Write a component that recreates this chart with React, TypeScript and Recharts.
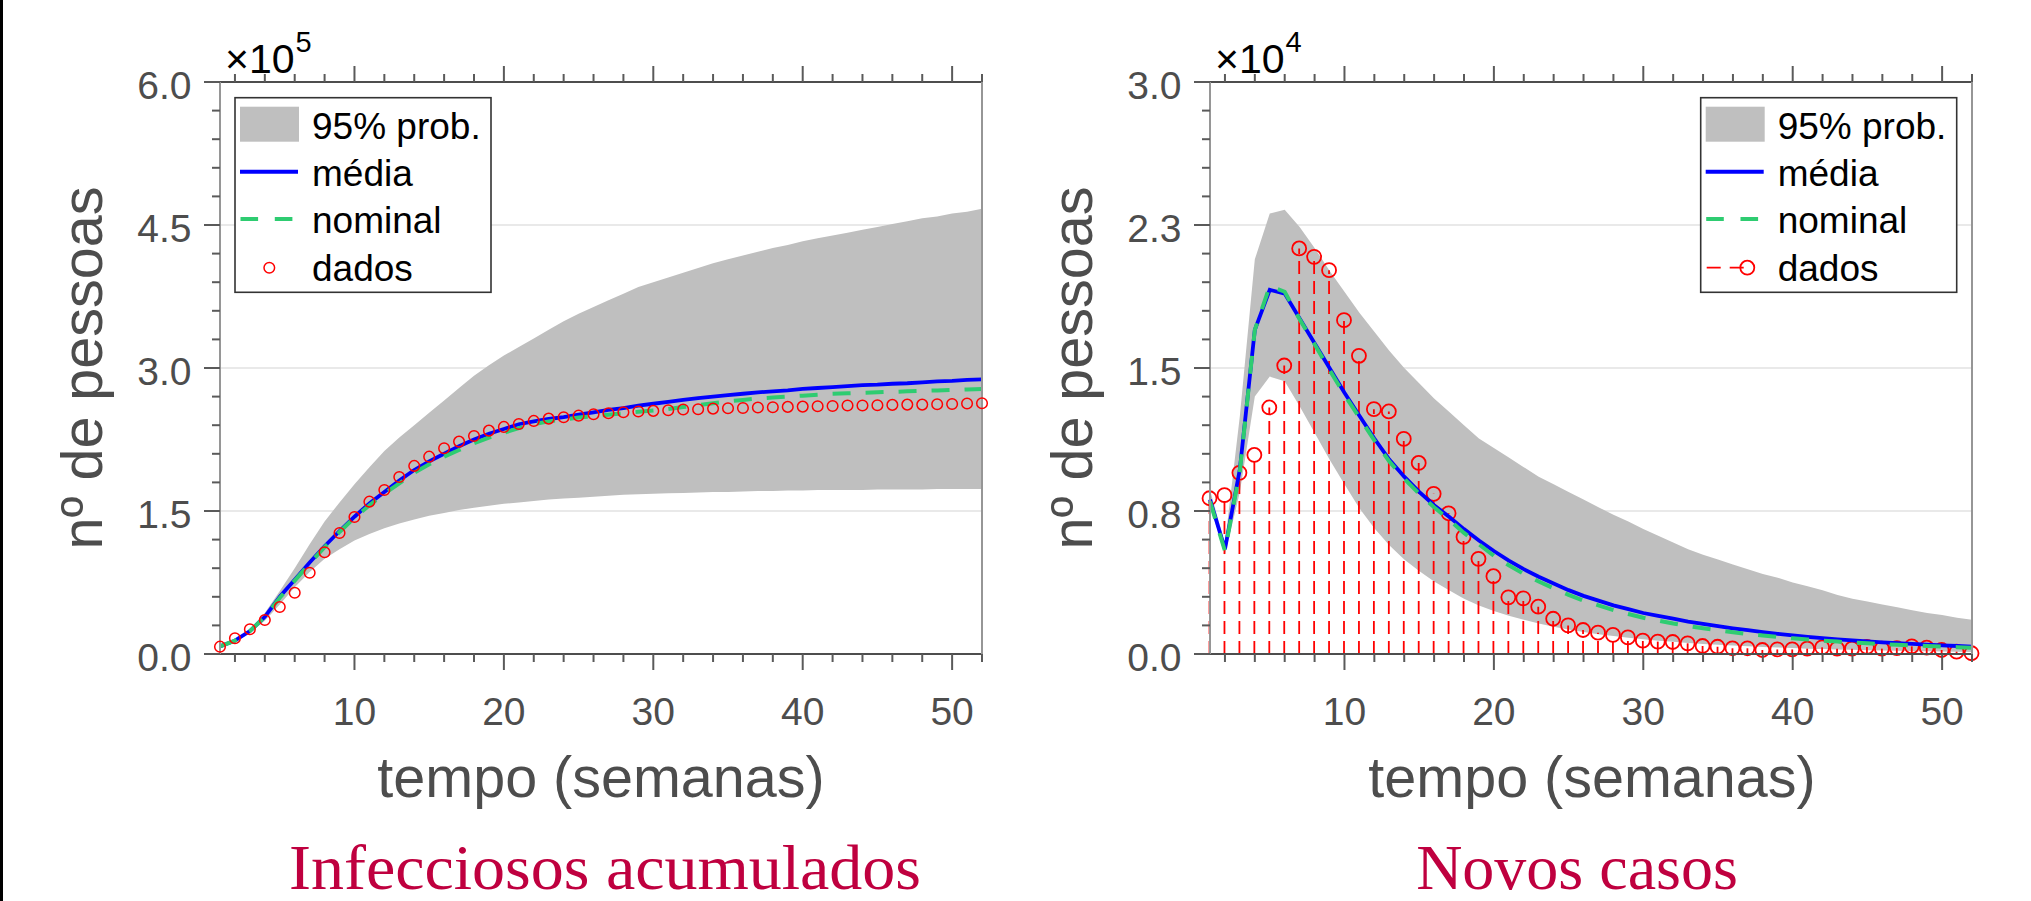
import React from "react";
import { ComposedChart, Area, Line, Bar, XAxis, YAxis, CartesianGrid } from "recharts";

// ---------- categories ----------
const WEEKS = [
  1, 2, 3, 4, 5, 6, 7, 8, 9, 10, 11, 12, 13, 14, 15, 16, 17, 18, 19, 20, 21, 22, 23, 24, 25, 26,
  27, 28, 29, 30, 31, 32, 33, 34, 35, 36, 37, 38, 39, 40, 41, 42, 43, 44, 45, 46, 47, 48, 49, 50, 51, 52,
];

// ---------- Infecciosos acumulados (x 10^5) ----------
const CUM_DADOS = [
  0.077, 0.165, 0.26, 0.357, 0.493, 0.643, 0.853, 1.067, 1.27, 1.437, 1.598, 1.72, 1.857, 1.973, 2.07, 2.158,
  2.228, 2.287, 2.343, 2.382, 2.413, 2.445, 2.469, 2.484, 2.5, 2.515, 2.526, 2.536, 2.543, 2.55, 2.557, 2.564,
  2.567, 2.574, 2.578, 2.581, 2.585, 2.588, 2.592, 2.595, 2.599, 2.602, 2.606, 2.606, 2.609, 2.613, 2.616, 2.616,
  2.62, 2.623, 2.627, 2.631,
];
const CUM_MEDIA = [
  0.08, 0.14, 0.24, 0.39, 0.6, 0.78, 0.96, 1.13, 1.29, 1.44, 1.58, 1.7, 1.82, 1.93, 2.02, 2.1, 2.18, 2.25, 2.31,
  2.36, 2.41, 2.44, 2.465, 2.485, 2.51, 2.535, 2.56, 2.58, 2.605, 2.625, 2.645, 2.665, 2.685, 2.7, 2.715, 2.73,
  2.745, 2.755, 2.765, 2.78, 2.79, 2.8, 2.81, 2.82, 2.825, 2.835, 2.84, 2.85, 2.86, 2.865, 2.875, 2.88,
];
const CUM_NOMINAL = [
  0.08, 0.14, 0.24, 0.39, 0.59, 0.77, 0.95, 1.12, 1.28, 1.43, 1.56, 1.68, 1.79, 1.9, 1.99, 2.07, 2.14, 2.21, 2.27,
  2.32, 2.37, 2.41, 2.44, 2.46, 2.48, 2.495, 2.51, 2.525, 2.54, 2.555, 2.57, 2.59, 2.61, 2.63, 2.65, 2.665, 2.68,
  2.69, 2.7, 2.71, 2.72, 2.73, 2.735, 2.74, 2.745, 2.75, 2.755, 2.76, 2.765, 2.77, 2.775, 2.78,
];
const CUM_UPPER = [
  0.08, 0.15, 0.26, 0.43, 0.66, 0.9, 1.15, 1.39, 1.59, 1.78, 1.96, 2.13, 2.27, 2.4, 2.53, 2.66, 2.79, 2.92, 3.03,
  3.13, 3.22, 3.31, 3.4, 3.49, 3.57, 3.64, 3.71, 3.78, 3.85, 3.9, 3.95, 4.0, 4.05, 4.1, 4.14, 4.18, 4.22, 4.26,
  4.29, 4.33, 4.36, 4.39, 4.42, 4.45, 4.48, 4.51, 4.54, 4.57, 4.59, 4.62, 4.64, 4.67,
];
const CUM_LOWER = [
  0.08, 0.13, 0.22, 0.35, 0.52, 0.7, 0.86, 1.0, 1.1, 1.19, 1.26, 1.32, 1.37, 1.41, 1.45, 1.48, 1.51, 1.535, 1.555,
  1.575, 1.59, 1.605, 1.62, 1.63, 1.64, 1.65, 1.66, 1.67, 1.675, 1.68, 1.685, 1.69, 1.695, 1.7, 1.7, 1.705, 1.71,
  1.71, 1.715, 1.715, 1.72, 1.72, 1.72, 1.72, 1.725, 1.725, 1.725, 1.725, 1.73, 1.73, 1.73, 1.73,
];

// ---------- Novos casos (x 10^4) ----------
const NEW_DADOS = [
  0.817, 0.833, 0.95, 1.044, 1.293, 1.513, 2.127, 2.083, 2.013, 1.751, 1.564, 1.284, 1.272, 1.128, 1.002, 0.84,
  0.738, 0.614, 0.499, 0.408, 0.297, 0.292, 0.248, 0.185, 0.15, 0.126, 0.112, 0.1, 0.087, 0.07, 0.065, 0.063,
  0.056, 0.042, 0.038, 0.03, 0.03, 0.021, 0.024, 0.024, 0.028, 0.035, 0.028, 0.028, 0.037, 0.028, 0.031, 0.04,
  0.033, 0.021, 0.012, 0.004,
];
const NEW_MEDIA = [
  0.81, 0.55, 0.97, 1.7, 1.91, 1.89, 1.76, 1.63, 1.5, 1.37, 1.25, 1.13, 1.02, 0.93, 0.85, 0.78, 0.72, 0.655, 0.595,
  0.54, 0.49, 0.445, 0.405, 0.37, 0.335, 0.305, 0.28, 0.255, 0.235, 0.215, 0.2, 0.185, 0.17, 0.158, 0.146, 0.135,
  0.125, 0.115, 0.106, 0.098, 0.09, 0.083, 0.077, 0.071, 0.066, 0.061, 0.057, 0.053, 0.049, 0.045, 0.042, 0.039,
];
const NEW_NOMINAL = [
  0.8, 0.54, 0.96, 1.7, 1.93, 1.9, 1.755, 1.625, 1.49, 1.36, 1.24, 1.12, 1.01, 0.92, 0.84, 0.77, 0.705, 0.635,
  0.575, 0.515, 0.465, 0.42, 0.38, 0.345, 0.31, 0.28, 0.255, 0.23, 0.21, 0.19, 0.175, 0.16, 0.147, 0.135, 0.124,
  0.114, 0.105, 0.097, 0.089, 0.082, 0.076, 0.07, 0.065, 0.06, 0.056, 0.052, 0.048, 0.045, 0.042, 0.039, 0.036, 0.033,
];
const NEW_UPPER = [
  0.86, 0.58, 1.25, 2.07, 2.31, 2.33, 2.24, 2.13, 2.01, 1.9, 1.79, 1.69, 1.59, 1.5, 1.42, 1.34, 1.27, 1.2, 1.13,
  1.08, 1.03, 0.98, 0.93, 0.89, 0.85, 0.81, 0.77, 0.73, 0.695, 0.655, 0.62, 0.585, 0.55, 0.52, 0.495, 0.47, 0.445,
  0.42, 0.4, 0.375, 0.355, 0.335, 0.31, 0.29, 0.275, 0.26, 0.245, 0.23, 0.215, 0.205, 0.19, 0.18,
];
const NEW_LOWER = [
  0.78, 0.52, 0.85, 1.35, 1.455, 1.43, 1.3, 1.16, 1.02, 0.89, 0.765, 0.66, 0.57, 0.495, 0.435, 0.38, 0.335, 0.29,
  0.255, 0.225, 0.2, 0.18, 0.16, 0.143, 0.128, 0.115, 0.104, 0.094, 0.085, 0.077, 0.07, 0.064, 0.058, 0.053, 0.048,
  0.044, 0.04, 0.037, 0.034, 0.031, 0.028, 0.026, 0.024, 0.022, 0.02, 0.018, 0.017, 0.015, 0.014, 0.013, 0.012, 0.011,
];

// ---------- ticks / labels ----------
const X_TICKS = [2, 4, 6, 8, 10, 12, 14, 16, 18, 20, 22, 24, 26, 28, 30, 32, 34, 36, 38, 40, 42, 44, 46, 48, 50, 52];
const X_MAJOR = [10, 20, 30, 40, 50];
const X_LABELS = ["10", "20", "30", "40", "50"];

const CUM_Y_TICKS = [0, 0.3, 0.6, 0.9, 1.2, 1.5, 1.8, 2.1, 2.4, 2.7, 3.0, 3.3, 3.6, 3.9, 4.2, 4.5, 4.8, 5.1, 5.4, 5.7, 6.0];
const CUM_Y_MAJOR = [0, 1.5, 3.0, 4.5, 6.0];
const CUM_Y_LABELS = ["0.0", "1.5", "3.0", "4.5", "6.0"];

const NEW_Y_TICKS = [0, 0.15, 0.3, 0.45, 0.6, 0.75, 0.9, 1.05, 1.2, 1.35, 1.5, 1.65, 1.8, 1.95, 2.1, 2.25, 2.4, 2.55, 2.7, 2.85, 3.0];
const NEW_Y_MAJOR = [0, 0.75, 1.5, 2.25, 3.0];
const NEW_Y_LABELS = ["0.0", "0.8", "1.5", "2.3", "3.0"];

const LEGEND_LABELS = ["95% prob.", "média", "nominal", "dados"];
const TITLES = ["Infecciosos acumulados", "Novos casos"];
const X_LABEL = "tempo (semanas)";
const Y_LABEL = "nº de pessoas";
const EXPONENTS = ["5", "4"];

const cumData = WEEKS.map((w, i) => ({
  week: w,
  band: [CUM_LOWER[i], CUM_UPPER[i]],
  media: CUM_MEDIA[i],
  nominal: CUM_NOMINAL[i],
  dados: CUM_DADOS[i],
}));
const newData = WEEKS.map((w, i) => ({
  week: w,
  band: [NEW_LOWER[i], NEW_UPPER[i]],
  media: NEW_MEDIA[i],
  nominal: NEW_NOMINAL[i],
  dados: NEW_DADOS[i],
}));

// ---------- styles ----------
const SANS = "'Liberation Sans', Arial, Helvetica, sans-serif";
const SERIF = "'Liberation Serif', 'Times New Roman', serif";
const TXT = "#4d4d4d";
const HLINE = "#4d4d4d";
const VLINE = "#969696";
const TICK = "#5a5a5a";
const BAND = "#bfbfbf";
const BLUE = "#0000ff";
const GREEN = "#2ecc71";
const RED = "#ff0000";
const TITLE_RED = "#bf003f";

const yTickLeft = (majors: number[], labels: string[]) => (props: any) => {
  const { x, y, payload } = props;
  const i = majors.indexOf(payload.value);
  const major = i >= 0;
  return (
    <g>
      <line x1={x} x2={x - (major ? 16 : 8)} y1={y} y2={y} stroke={TICK} strokeWidth={2} />
      {major && (
        <text x={x - 28.5} y={y + 16.5} textAnchor="end" fontSize={39} fontFamily={SANS} fill={TXT}>
          {labels[i]}
        </text>
      )}
    </g>
  );
};
const yTickRight = (majors: number[]) => (props: any) => {
  const { x, y, payload } = props;
  const major = majors.indexOf(payload.value) >= 0;
  return <line x1={x} x2={x + (major ? 16 : 8)} y1={y} y2={y} stroke={TICK} strokeWidth={2} />;
};
const xTickBottom = (props: any) => {
  const { x, y, payload } = props;
  const i = X_MAJOR.indexOf(payload.value);
  const major = i >= 0;
  return (
    <g>
      <line x1={x} x2={x} y1={y} y2={y + (major ? 16 : 8)} stroke={TICK} strokeWidth={2} />
      {major && (
        <text x={x} y={y + 71} textAnchor="middle" fontSize={39} fontFamily={SANS} fill={TXT}>
          {X_LABELS[i]}
        </text>
      )}
    </g>
  );
};
const xTickTop = (props: any) => {
  const { x, y, payload } = props;
  const major = X_MAJOR.indexOf(payload.value) >= 0;
  return <line x1={x} x2={x} y1={y} y2={y - (major ? 16 : 8)} stroke={TICK} strokeWidth={2} />;
};

const StemShape = (props: any) => {
  const { x, y, width, height } = props;
  if (x == null || y == null) return <g />;
  const cx = x + width / 2;
  return (
    <g>
      <line x1={cx} x2={cx} y1={y + height} y2={y} stroke={RED} strokeWidth={1.8} strokeDasharray="13 7" />
      <circle cx={cx} cy={y} r={7} fill="none" stroke={RED} strokeWidth={1.8} />
    </g>
  );
};

type PanelProps = {
  data: any[];
  yMax: number;
  yTicks: number[];
  yMajor: number[];
  yLabels: string[];
  stems: boolean;
  margin: { top: number; right: number; bottom: number; left: number };
  width: number;
};

function Panel({ data, yMax, yTicks, yMajor, yLabels, stems, margin, width }: PanelProps) {
  const gridValues = yMajor.filter((v) => v > 0 && v < yMax);
  return (
    <ComposedChart width={width} height={901} data={data} margin={margin}>
      <CartesianGrid vertical={false} horizontalValues={gridValues} stroke="#e2e2e2" strokeWidth={1.5} />
      <XAxis
        dataKey="week"
        type="number"
        domain={[1, 52]}
        ticks={X_TICKS}
        interval={0}
        height={60}
        tickSize={0}
        tickMargin={0}
        tickLine={false}
        tick={xTickBottom}
        axisLine={{ stroke: HLINE, strokeWidth: 2 }}
      />
      <XAxis
        xAxisId="top"
        orientation="top"
        dataKey="week"
        type="number"
        domain={[1, 52]}
        ticks={X_TICKS}
        interval={0}
        height={30}
        tickSize={0}
        tickMargin={0}
        tickLine={false}
        tick={xTickTop}
        axisLine={{ stroke: HLINE, strokeWidth: 2 }}
      />
      <YAxis
        type="number"
        domain={[0, yMax]}
        ticks={yTicks}
        interval={0}
        width={100}
        tickSize={0}
        tickMargin={0}
        tickLine={false}
        tick={yTickLeft(yMajor, yLabels)}
        axisLine={{ stroke: VLINE, strokeWidth: 2 }}
      />
      <YAxis
        yAxisId="right"
        orientation="right"
        type="number"
        domain={[0, yMax]}
        ticks={yTicks}
        interval={0}
        width={30}
        tickSize={0}
        tickMargin={0}
        tickLine={false}
        tick={yTickRight(yMajor)}
        axisLine={{ stroke: VLINE, strokeWidth: 2 }}
      />
      <Area
        type="linear"
        dataKey="band"
        stroke="none"
        fill={BAND}
        fillOpacity={1}
        isAnimationActive={false}
        activeDot={false}
        dot={false}
      />
      <Line
        type="linear"
        dataKey="media"
        stroke={BLUE}
        strokeWidth={3.8}
        dot={false}
        activeDot={false}
        isAnimationActive={false}
      />
      <Line
        type="linear"
        dataKey="nominal"
        stroke={GREEN}
        strokeWidth={4}
        strokeDasharray="18 15"
        dot={false}
        activeDot={false}
        isAnimationActive={false}
      />
      {stems ? (
        <Bar dataKey="dados" barSize={4} shape={StemShape} isAnimationActive={false} />
      ) : (
        <Line
          type="linear"
          dataKey="dados"
          stroke="none"
          activeDot={false}
          isAnimationActive={false}
          dot={(p: any) => (
            <circle key={`d${p.index}`} cx={p.cx} cy={p.cy} r={5.3} fill="none" stroke={RED} strokeWidth={1.5} />
          )}
        />
      )}
    </ComposedChart>
  );
}

function LegendBox({ left, stem }: { left: number; stem: boolean }) {
  const top = 97.7;
  const tx = left + 77;
  const fs = 37;
  return (
    <g>
      <rect x={left} y={top} width={256} height={194.6} fill="#ffffff" stroke="#333333" strokeWidth={1.6} />
      <rect x={left + 5} y={top + 9} width={59} height={35} fill={BAND} />
      <text x={tx} y={139.3} fontSize={fs} fontFamily={SANS} fill="#000">{LEGEND_LABELS[0]}</text>
      <line x1={left + 5} x2={left + 63} y1={171.7} y2={171.7} stroke={BLUE} strokeWidth={4} />
      <text x={tx} y={186} fontSize={fs} fontFamily={SANS} fill="#000">{LEGEND_LABELS[1]}</text>
      <line x1={left + 5.5} x2={left + 58} y1={219} y2={219} stroke={GREEN} strokeWidth={4} strokeDasharray="17.6 16.7" />
      <text x={tx} y={233.3} fontSize={fs} fontFamily={SANS} fill="#000">{LEGEND_LABELS[2]}</text>
      {stem ? (
        <g>
          <line x1={left + 6} x2={left + 46.6} y1={267.7} y2={267.7} stroke={RED} strokeWidth={1.8} strokeDasharray="14 9" />
          <circle cx={left + 46.6} cy={267.7} r={7} fill="none" stroke={RED} strokeWidth={1.8} />
        </g>
      ) : (
        <circle cx={left + 34.3} cy={267.7} r={5.3} fill="none" stroke={RED} strokeWidth={1.5} />
      )}
      <text x={tx} y={280.7} fontSize={fs} fontFamily={SANS} fill="#000">{LEGEND_LABELS[3]}</text>
    </g>
  );
}

function Annotations() {
  const panels = [
    { axisLeft: 220, center: 601, titleCenter: 605, titleLen: 632, legendLeft: 235, stem: false, exp: EXPONENTS[0], title: TITLES[0] },
    { axisLeft: 1210, center: 1592, titleCenter: 1577, titleLen: 0, legendLeft: 1700.7, stem: true, exp: EXPONENTS[1], title: TITLES[1] },
  ];
  return (
    <svg
      width={2031}
      height={901}
      style={{ position: "absolute", left: 0, top: 0, pointerEvents: "none" }}
    >
      {panels.map((p, k) => (
        <g key={k}>
          <LegendBox left={p.legendLeft} stem={p.stem} />
          <text x={p.axisLeft + 5} y={72.5} fontSize={41} fontFamily={SANS} fill="#000">
            ×10
          </text>
          <text x={p.axisLeft + 75.5} y={51.7} fontSize={29} fontFamily={SANS} fill="#000">
            {p.exp}
          </text>
          <text x={p.center} y={797} textAnchor="middle" fontSize={57.5} fontFamily={SANS} fill={TXT}>
            {X_LABEL}
          </text>
          <text
            x={p.axisLeft - 118}
            y={368}
            transform={`rotate(-90 ${p.axisLeft - 118} 368)`}
            textAnchor="middle"
            fontSize={57.5}
            fontFamily={SANS}
            fill={TXT}
          >
            {Y_LABEL}
          </text>
          <text
            x={p.titleCenter}
            y={888.5}
            textAnchor="middle"
            fontSize={64}
            fontFamily={SERIF}
            fill={TITLE_RED}
            {...(p.titleLen ? { textLength: p.titleLen, lengthAdjust: "spacingAndGlyphs" } : {})}
          >
            {p.title}
          </text>
        </g>
      ))}
    </svg>
  );
}

export default function App() {
  return (
    <div style={{ position: "relative", width: 2031, height: 901, background: "#fff", overflow: "hidden" }}>
      <style>{"body{margin:0;}"}</style>
      <div style={{ position: "absolute", left: 0, top: 0, width: 3, height: 901, background: "#000" }} />
      <div style={{ position: "absolute", left: 0, top: 0 }}>
        <Panel
          data={cumData}
          yMax={6}
          yTicks={CUM_Y_TICKS}
          yMajor={CUM_Y_MAJOR}
          yLabels={CUM_Y_LABELS}
          stems={false}
          width={1015}
          margin={{ top: 52, right: 3, bottom: 187, left: 120 }}
        />
      </div>
      <div style={{ position: "absolute", left: 1015, top: 0 }}>
        <Panel
          data={newData}
          yMax={3}
          yTicks={NEW_Y_TICKS}
          yMajor={NEW_Y_MAJOR}
          yLabels={NEW_Y_LABELS}
          stems={true}
          width={1016}
          margin={{ top: 52, right: 29, bottom: 187, left: 95 }}
        />
      </div>
      <Annotations />
    </div>
  );
}
